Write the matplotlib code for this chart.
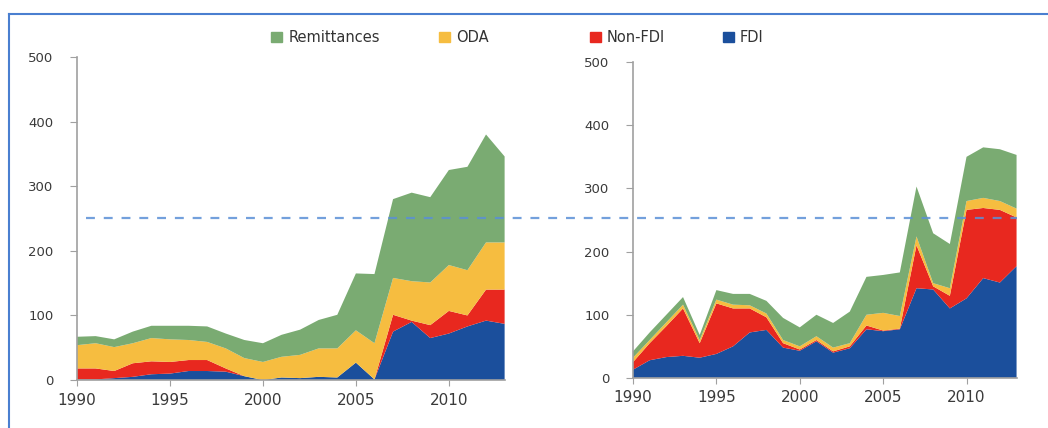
import matplotlib
matplotlib.use("Agg")
import matplotlib.pyplot as plt
from matplotlib.patches import Patch
from matplotlib.lines import Line2D

years = list(range(1990, 2014))

# left panel (stacked values)
left_fdi = [1, 1, 3, 5, 9, 10, 14, 14, 13, 6, 0, 4, 3, 5, 4, 27, 1, 75, 90, 65, 72, 83, 92, 87]
left_nonfdi = [17, 17, 11, 21, 20, 18, 17, 17, 5, 0, 0, 0, 0, 0, 0, 0, 0, 26, 2, 20, 35, 17, 48, 53]
left_oda = [36, 39, 37, 31, 36, 35, 31, 28, 31, 28, 28, 32, 36, 44, 45, 50, 56, 57, 61, 66, 71, 70, 73, 73]
left_remit = [13, 11, 12, 18, 19, 21, 22, 24, 23, 28, 29, 34, 39, 44, 52, 88, 107, 122, 137, 132, 147, 160, 167, 133]

# right panel
right_fdi = [13, 28, 33, 35, 32, 38, 50, 72, 76, 48, 43, 58, 40, 47, 77, 74, 77, 142, 140, 110, 126, 158, 151, 177]
right_nonfdi = [12, 27, 49, 75, 23, 80, 60, 38, 20, 7, 2, 2, 2, 3, 6, 1, 1, 68, 5, 20, 140, 111, 115, 77]
right_oda = [7, 5, 6, 6, 5, 6, 6, 5, 6, 5, 5, 6, 6, 5, 17, 28, 20, 14, 5, 12, 14, 16, 14, 14]
right_remit = [10, 12, 12, 12, 8, 15, 17, 18, 20, 35, 30, 34, 39, 50, 60, 60, 69, 79, 79, 70, 70, 80, 82, 85]

names = ["Remittances", "ODA", "Non-FDI", "FDI"]
colors = {"FDI": "#1b4f9c", "Non-FDI": "#e8281f", "ODA": "#f6bd40", "Remittances": "#7aab72"}
threshold = 250

fig = plt.figure(figsize=(10.48, 4.28), dpi=100)
ax1 = fig.add_axes([0.0735, 0.112, 0.408, 0.755])
ax2 = fig.add_axes([0.604, 0.117, 0.366, 0.738])

panels = [(ax1, left_fdi, left_nonfdi, left_oda, left_remit),
          (ax2, right_fdi, right_nonfdi, right_oda, right_remit)]
for ax, fdi, nonfdi, oda, remit in panels:
    ax.stackplot(years, fdi, nonfdi, oda, remit,
                 colors=[colors["FDI"], colors["Non-FDI"], colors["ODA"], colors["Remittances"]],
                 linewidth=0)
    ax.set_xlim(1990, 2013)
    ax.set_ylim(0, 500)
    ax.set_xticks(range(1990, 2014, 5))
    ax.set_yticks(range(0, 501, 100))
    for s in ["top", "right"]:
        ax.spines[s].set_visible(False)
    for s in ["left", "bottom"]:
        ax.spines[s].set_color("#a0a0a0")
        ax.spines[s].set_linewidth(1.2)
    ax.tick_params(axis="x", colors="#a0a0a0", labelcolor="#3a3a3a", labelsize=11, length=4, pad=5)
    ax.tick_params(axis="y", colors="#a0a0a0", labelcolor="#3a3a3a", labelsize=9.5, length=5, pad=12)

# dashed threshold line running across both panels
y_fig = ax1.transData.transform((1990, threshold))[1]
x0 = ax1.transData.transform((1990.5, threshold))[0]
x1 = ax2.transData.transform((2013, threshold))[0]
inv = fig.transFigure.inverted()
p0 = inv.transform((x0, y_fig))
p1 = inv.transform((x1, y_fig))
fig.add_artist(Line2D([p0[0], p1[0]], [p0[1], p1[1]], color="#5b8fd6",
                      linestyle=(0, (4, 4)), linewidth=1.6, alpha=0.85))

# legend entries spread along the top
legend_x = [0.252, 0.412, 0.556, 0.683]
for name, lx in zip(names, legend_x):
    fig.legend(handles=[Patch(color=colors[name])], labels=[name], loc="center left",
               bbox_to_anchor=(lx, 0.912), frameon=False, fontsize=10.5,
               handlelength=0.75, handleheight=0.75, handletextpad=0.4, borderpad=0,
               labelcolor="#333333")

# outer frame (top and left edges)
fig.add_artist(Line2D([0.0086, 1.0], [0.967, 0.967], color="#4a7fd0", linewidth=1.5))
fig.add_artist(Line2D([0.0086, 0.0086], [0.0, 0.967], color="#4a7fd0", linewidth=1.5))

fig.savefig("out.png", dpi=100)
